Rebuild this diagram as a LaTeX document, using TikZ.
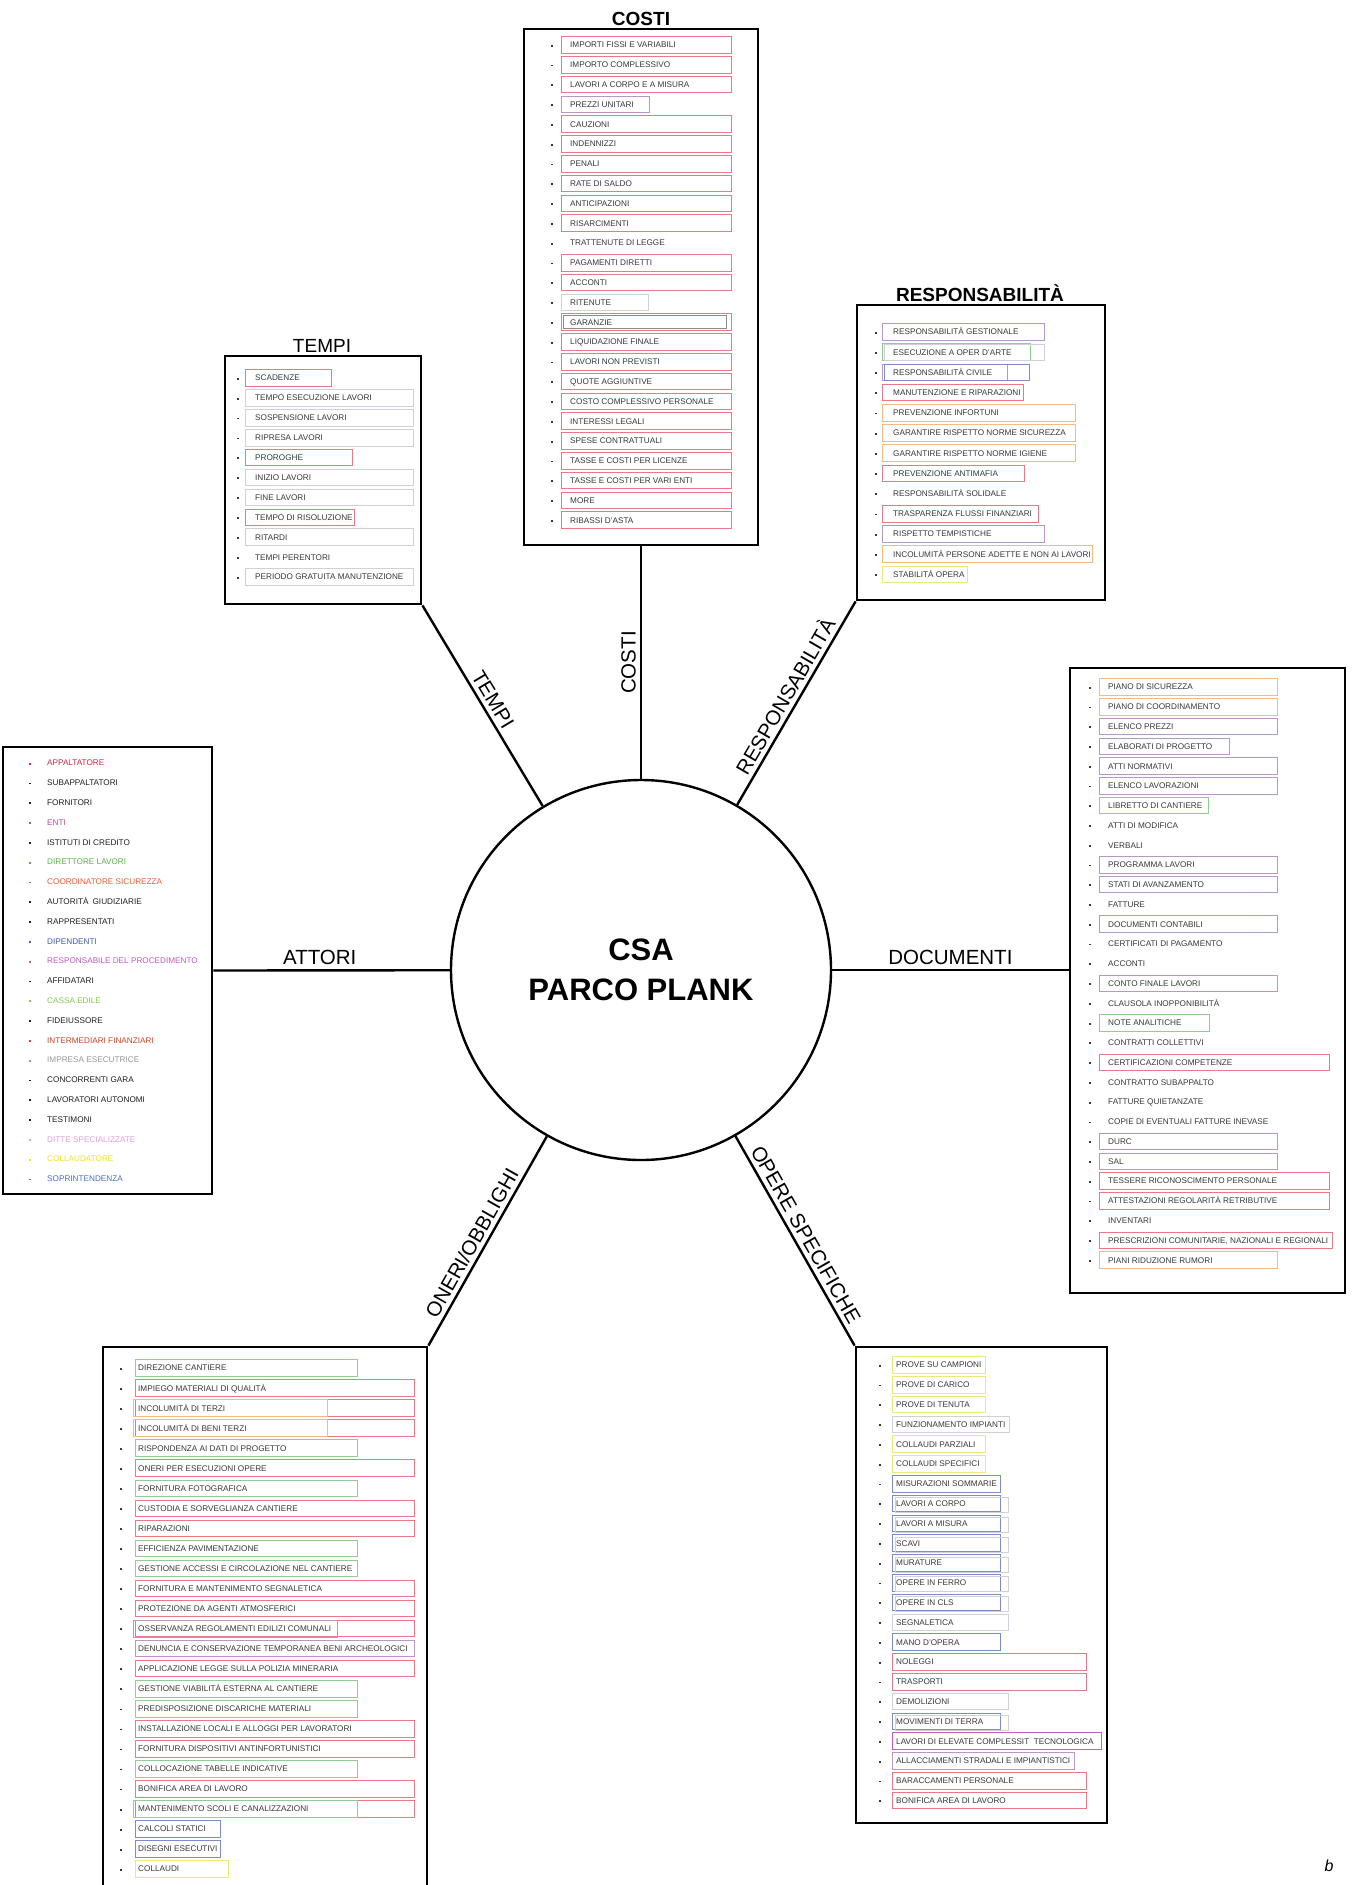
\documentclass[tikz,border=0pt]{standalone}
\usepackage{fontspec}
\setmainfont{Liberation Sans}
\definecolor{itemgrey}{RGB}{55,55,55}
\definecolor{boxred}{RGB}{236,120,135}
\definecolor{boxgreen}{RGB}{145,205,145}
\definecolor{boxpurple}{RGB}{185,150,200}
\definecolor{boxblue}{RGB}{125,140,200}
\definecolor{boxorange}{RGB}{245,185,130}
\definecolor{boxyellow}{RGB}{238,230,120}
\definecolor{boxgrey}{RGB}{208,208,216}
\definecolor{boxmag}{RGB}{200,95,190}
\definecolor{aBlack}{RGB}{30,30,30}
\definecolor{aRed}{RGB}{200,40,70}
\definecolor{aPurple}{RGB}{170,80,160}
\definecolor{aGreen}{RGB}{90,175,70}
\definecolor{aOrange}{RGB}{240,90,50}
\definecolor{aBlue}{RGB}{60,90,180}
\definecolor{aMagenta}{RGB}{190,90,190}
\definecolor{aLGreen}{RGB}{130,200,80}
\definecolor{aBrown}{RGB}{200,70,40}
\definecolor{aGrey}{RGB}{150,150,150}
\definecolor{aPink}{RGB}{220,160,220}
\definecolor{aYellow}{RGB}{235,225,30}
\definecolor{aSky}{RGB}{70,110,190}
% #1 prefix, #2 bullet x, #3 text x, #4 box left, #5 y0, #6 dy, #7 list
\newcommand\drawitems[7]{%
  \foreach \t/\c/\r [count=\i from 1] in {#7} {
    \pgfmathsetmacro\yy{#5+(\i-1)*#6}
    \draw[ibox, draw=\c] (#4,\yy-8.3) rectangle (\r,\yy+8.3);
    \fill[itemgrey] (#2-0.9,\yy-0.2) rectangle (#2+0.9,\yy+1.6);
    \node[itxt] (#1\i) at (#3,\yy) {\t};
  }}
\begin{document}
\begin{tikzpicture}[x=1pt,y=-1pt,
  mainbox/.style={draw=black, line width=2.8pt, inner sep=0pt},
  conn/.style={line width=2.4pt, draw=black},
  clabel/.style={font=\fontsize{20.5}{24}\selectfont, inner sep=4pt},
  titleb/.style={font=\fontsize{19}{22}\selectfont\bfseries, inner sep=0pt, anchor=base},
  titler/.style={font=\fontsize{19}{22}\selectfont, inner sep=0pt, anchor=base},
  itxt/.style={font=\fontsize{8.2}{9}\selectfont, text=itemgrey, inner sep=0pt, anchor=west, text height=5.9pt, text depth=0pt},
  ibox/.style={line width=0.9pt},
]
\useasboundingbox (0,0) rectangle (1353,1885);

% centre
\node[circle, draw, line width=2.4pt, minimum size=380pt, inner sep=0pt, align=center,
      font=\fontsize{31}{40}\selectfont\bfseries] (c) at (641,970) {CSA\\PARCO PLANK};

% boxes
\node[mainbox, minimum width=234pt, minimum height=516pt] (costibox) at (641,287) {};
\node[mainbox, minimum width=196pt, minimum height=248pt] (tempibox) at (323,480) {};
\node[mainbox, minimum width=248pt, minimum height=295pt] (respbox) at (981,452.5) {};
\node[mainbox, minimum width=209pt, minimum height=447pt] (attoribox) at (107.5,970.5) {};
\node[mainbox, minimum width=275pt, minimum height=625pt] (docbox) at (1207.5,980.5) {};
\node[mainbox, minimum width=324pt, minimum height=553pt] (oneribox) at (265,1623.5) {};
\node[mainbox, minimum width=251pt, minimum height=476pt] (operebox) at (981.5,1585) {};

% titles
\node[titleb] (costititle) at (641,25) {COSTI};
\node[titler] (tempititle) at (322,352) {TEMPI};
\node[titleb] (resptitle) at (980,301) {RESPONSABILITÀ};

% connectors
\draw[conn] (c) -- node[clabel, pos=0.5, rotate=90, anchor=south] {COSTI} (costibox.south);
\draw[conn] (tempibox.south east) -- node[clabel, sloped, above, pos=0.5] {TEMPI} (c);
\draw[conn] (c) -- node[clabel, sloped, above, pos=0.5] {RESPONSABILITÀ} (respbox.south west);
\draw[conn] (attoribox.east) -- node[clabel, above, pos=0.45] {ATTORI} (c);
\draw[conn] (c) -- node[clabel, above, pos=0.5] {DOCUMENTI} (c -| docbox.west);
\draw[conn] (oneribox.north east) -- node[clabel, sloped, above, pos=0.46] {ONERI/OBBLIGHI} (c);
\draw[conn] (c) -- node[clabel, sloped, above, pos=0.5] {OPERE SPECIFICHE} (operebox.north west);

% COSTI
\drawitems{costi}{552}{570}{561}{45}{19.8}{%
IMPORTI FISSI E VARIABILI/boxred/731,
IMPORTO COMPLESSIVO/boxred/731,
LAVORI A CORPO E A MISURA/boxred/731,
PREZZI UNITARI/boxpurple/649,
CAUZIONI/boxred/731,
INDENNIZZI/boxred/731,
PENALI/boxred/731,
RATE DI SALDO/boxred/731,
ANTICIPAZIONI/boxred/731,
RISARCIMENTI/boxred/731,
TRATTENUTE DI LEGGE/none/731,
PAGAMENTI DIRETTI/boxred/731,
ACCONTI/boxred/731,
RITENUTE/boxgrey/648,
GARANZIE/boxred/731,
LIQUIDAZIONE FINALE/boxred/731,
LAVORI NON PREVISTI/boxred/731,
QUOTE AGGIUNTIVE/boxred/731,
COSTO COMPLESSIVO PERSONALE/boxred/731,
INTERESSI LEGALI/boxred/731,
SPESE CONTRATTUALI/boxred/731,
TASSE E COSTI PER LICENZE/boxred/731,
TASSE E COSTI PER VARI ENTI/boxred/731,
MORE/boxred/731,
RIBASSI D'ASTA/boxred/731}
\draw[ibox, draw=black!45] (563,322.2-6.5) rectangle (726,322.2+6.5);

% TEMPI
\drawitems{tempi}{238}{255}{245}{378}{19.9}{%
SCADENZE/boxred/331,
TEMPO ESECUZIONE LAVORI/boxgrey/413,
SOSPENSIONE LAVORI/boxgrey/413,
RIPRESA LAVORI/boxgrey/413,
PROROGHE/boxred/352,
INIZIO LAVORI/boxgrey/413,
FINE LAVORI/boxgrey/413,
TEMPO DI RISOLUZIONE/boxred/354,
RITARDI/boxgrey/413,
TEMPI PERENTORI/none/413,
PERIODO GRATUITA MANUTENZIONE/boxgrey/413}

% RESPONSABILITA
\drawitems{resp}{876}{893}{882}{332}{20.2}{%
RESPONSABILITÀ GESTIONALE/boxpurple/1044,
ESECUZIONE A OPER D'ARTE/boxgreen/1030,
RESPONSABILITÀ CIVILE/boxpurple/1007,
MANUTENZIONE E RIPARAZIONI/boxred/1023,
PREVENZIONE INFORTUNI/boxorange/1075,
GARANTIRE RISPETTO NORME SICUREZZA/boxorange/1075,
GARANTIRE RISPETTO NORME IGIENE/boxorange/1075,
PREVENZIONE ANTIMAFIA/boxred/1024,
RESPONSABILITÀ SOLIDALE/none/1024,
TRASPARENZA FLUSSI FINANZIARI/boxred/1038,
RISPETTO TEMPISTICHE/boxpurple/1044,
INCOLUMITÀ PERSONE ADETTE E NON AI LAVORI/boxorange/1092,
STABILITÀ OPERA/boxyellow/967}
\draw[ibox, draw=boxgrey] (884,352.2-8) rectangle (1044,352.2+8);
\draw[ibox, draw=boxblue] (884,372.4-8) rectangle (1029,372.4+8);

% ATTORI
\foreach \t/\c [count=\i from 1] in {%
APPALTATORE/aRed, SUBAPPALTATORI/aBlack, FORNITORI/aBlack, ENTI/aPurple,
ISTITUTI DI CREDITO/aBlack, DIRETTORE LAVORI/aGreen, COORDINATORE SICUREZZA/aOrange,
AUTORITÀ\enspace GIUDIZIARIE/aBlack, RAPPRESENTATI/aBlack, DIPENDENTI/aBlue,
RESPONSABILE DEL PROCEDIMENTO/aMagenta, AFFIDATARI/aBlack, CASSA EDILE/aLGreen,
FIDEIUSSORE/aBlack, INTERMEDIARI FINANZIARI/aBrown, IMPRESA ESECUTRICE/aGrey,
CONCORRENTI GARA/aBlack, LAVORATORI AUTONOMI/aBlack, TESTIMONI/aBlack,
DITTE SPECIALIZZATE/aPink, COLLAUDATORE/aYellow, SOPRINTENDENZA/aSky} {
  \pgfmathsetmacro\yy{763+(\i-1)*19.8}
  \fill[\c] (29.1,\yy-0.2) rectangle (30.9,\yy+1.6);
  \node[itxt, text=\c] (attori\i) at (47,\yy) {\t};
}

% DOCUMENTI
\drawitems{doc}{1090}{1108}{1099}{687}{19.76}{%
PIANO DI SICUREZZA/boxorange/1277,
PIANO DI COORDINAMENTO/boxorange/1277,
ELENCO PREZZI/boxpurple/1277,
ELABORATI DI PROGETTO/boxpurple/1229,
ATTI NORMATIVI/boxpurple/1277,
ELENCO LAVORAZIONI/boxpurple/1277,
LIBRETTO DI CANTIERE/boxgreen/1208,
ATTI DI MODIFICA/none/1277,
VERBALI/none/1277,
PROGRAMMA LAVORI/boxpurple/1277,
STATI DI AVANZAMENTO/boxpurple/1277,
FATTURE/none/1277,
DOCUMENTI CONTABILI/boxpurple/1277,
CERTIFICATI DI PAGAMENTO/none/1277,
ACCONTI/none/1277,
CONTO FINALE LAVORI/boxpurple/1277,
CLAUSOLA INOPPONIBILITÀ/none/1277,
NOTE ANALITICHE/boxgreen/1209,
CONTRATTI COLLETTIVI/none/1277,
CERTIFICAZIONI COMPETENZE/boxred/1329,
CONTRATTO SUBAPPALTO/none/1277,
FATTURE QUIETANZATE/none/1277,
COPIE DI EVENTUALI FATTURE INEVASE/none/1277,
DURC/boxpurple/1277,
SAL/boxpurple/1277,
TESSERE RICONOSCIMENTO PERSONALE/boxred/1329,
ATTESTAZIONI REGOLARITÀ RETRIBUTIVE/boxred/1329,
INVENTARI/none/1277,
{PRESCRIZIONI COMUNITARIE, NAZIONALI E REGIONALI}/boxred/1332,
PIANI RIDUZIONE RUMORI/boxorange/1277}

% ONERI/OBBLIGHI
\drawitems{oneri}{121}{138}{135}{1368}{20.04}{%
DIREZIONE CANTIERE/boxgreen/357,
IMPIEGO MATERIALI DI QUALITÀ/boxred/414,
INCOLUMITÀ DI TERZI/boxred/414,
INCOLUMITÀ DI BENI TERZI/boxred/414,
RISPONDENZA AI DATI DI PROGETTO/boxgreen/357,
ONERI PER ESECUZIONI OPERE/boxred/414,
FORNITURA FOTOGRAFICA/boxgreen/357,
CUSTODIA E SORVEGLIANZA CANTIERE/boxred/414,
RIPARAZIONI/boxred/414,
EFFICIENZA PAVIMENTAZIONE/boxgreen/357,
GESTIONE ACCESSI E CIRCOLAZIONE NEL CANTIERE/boxgreen/357,
FORNITURA E MANTENIMENTO SEGNALETICA/boxred/414,
PROTEZIONE DA AGENTI ATMOSFERICI/boxred/414,
OSSERVANZA REGOLAMENTI EDILIZI COMUNALI/boxred/414,
DENUNCIA E CONSERVAZIONE TEMPORANEA BENI ARCHEOLOGICI/boxpurple/414,
APPLICAZIONE LEGGE SULLA POLIZIA MINERARIA/boxred/414,
GESTIONE VIABILITÀ ESTERNA AL CANTIERE/boxgreen/357,
PREDISPOSIZIONE DISCARICHE MATERIALI/boxgreen/357,
INSTALLAZIONE LOCALI E ALLOGGI PER LAVORATORI/boxred/414,
FORNITURA DISPOSITIVI ANTINFORTUNISTICI/boxred/414,
COLLOCAZIONE TABELLE INDICATIVE/boxgreen/357,
BONIFICA AREA DI LAVORO/boxred/414,
MANTENIMENTO SCOLI E CANALIZZAZIONI/boxred/414,
CALCOLI STATICI/boxblue/220,
DISEGNI ESECUTIVI/boxblue/220,
COLLAUDI/boxyellow/228}
\draw[ibox, draw=boxorange] (133,1408.1-8.5) rectangle (327,1408.1+8.5);
\draw[ibox, draw=boxorange] (133,1428.1-8.5) rectangle (327,1428.1+8.5);
\draw[ibox, draw=boxpurple] (133,1628.5-8.5) rectangle (337,1628.5+8.5);
\draw[ibox, draw=boxgreen] (133,1808.9-8.5) rectangle (357,1808.9+8.5);

% OPERE SPECIFICHE
\drawitems{opere}{880}{896}{892}{1365}{19.8}{%
PROVE SU CAMPIONI/boxyellow/985,
PROVE DI CARICO/boxyellow/985,
PROVE DI TENUTA/boxyellow/985,
FUNZIONAMENTO IMPIANTI/boxgrey/1009,
COLLAUDI PARZIALI/boxyellow/985,
COLLAUDI SPECIFICI/boxyellow/985,
MISURAZIONI SOMMARIE/boxblue/1000,
LAVORI A CORPO/boxblue/1000,
LAVORI A MISURA/boxblue/1000,
SCAVI/boxblue/1000,
MURATURE/boxblue/1000,
OPERE IN FERRO/boxblue/1000,
OPERE IN CLS/boxblue/1000,
SEGNALETICA/boxgrey/1008,
MANO D'OPERA/boxblue/1000,
NOLEGGI/boxred/1086,
TRASPORTI/boxred/1086,
DEMOLIZIONI/boxgrey/1008,
MOVIMENTI DI TERRA/boxblue/1000,
LAVORI DI ELEVATE COMPLESSIT\ \ TECNOLOGICA/boxmag/1101,
ALLACCIAMENTI STRADALI E IMPIANTISTICI/boxpurple/1074,
BARACCAMENTI PERSONALE/boxred/1086,
BONIFICA AREA DI LAVORO/boxred/1086}
\foreach \k in {8,...,13,19} {
  \pgfmathsetmacro\yy{1365+(\k-1)*19.8}
  \draw[ibox, draw=boxgrey] (895,\yy-6) rectangle (1008,\yy+9);
}

\node[font=\fontsize{16}{18}\selectfont\itshape, inner sep=0pt] (bmark) at (1329,1866) {b};
\end{tikzpicture}
\end{document}
